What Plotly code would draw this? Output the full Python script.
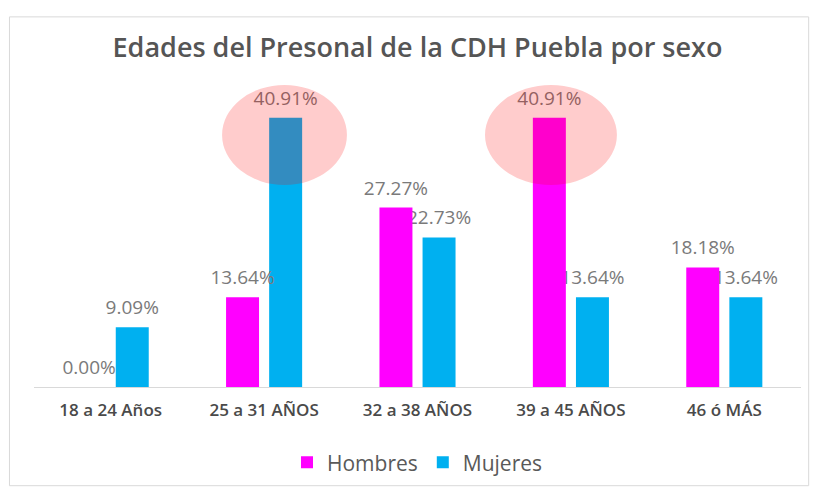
import plotly.graph_objects as go

categories = ["18 a 24 Años", "25 a 31 AÑOS", "32 a 38 AÑOS", "39 a 45 AÑOS", "46 ó MÁS"]
hombres = [0.0, 0.1364, 0.2727, 0.4091, 0.1818]
mujeres = [0.0909, 0.4091, 0.2273, 0.1364, 0.1364]
title_text = "Edades del Presonal de la CDH Puebla por sexo"

FONT = "Open Sans"
label_font = dict(family=FONT, size=19, color="#7a7a7a")
LABEL_PAD = 0.006  # gap between bar top and its label, in axis units
BAR_W = 0.215
OFF_H = -0.248
OFF_M = 0.033


def label_trace(values, offset):
    return go.Bar(
        x=categories, y=[LABEL_PAD] * len(values), base=values,
        text=[f"{v:.2%}" for v in values], textposition="outside",
        textfont=label_font, constraintext="none", cliponaxis=False,
        marker=dict(color="rgba(0,0,0,0)", line=dict(width=0)),
        width=BAR_W, offset=offset, showlegend=False, hoverinfo="skip",
    )


fig = go.Figure()
# Mujeres drawn first so that Hombres bars overlap its labels (as in the original)
fig.add_trace(go.Bar(
    name="Mujeres", x=categories, y=mujeres,
    marker=dict(color="#00B0F0", line=dict(width=0)),
    width=BAR_W, offset=OFF_M,
))
fig.add_trace(label_trace(mujeres, OFF_M))
fig.add_trace(go.Bar(
    name="Hombres", x=categories, y=hombres,
    marker=dict(color="#FF00FF", line=dict(width=0)),
    width=BAR_W, offset=OFF_H,
))
fig.add_trace(label_trace(hombres, OFF_H))

circle_style = dict(type="circle", xref="x", yref="y", layer="above",
                    fillcolor="rgba(255,0,0,0.2)", line=dict(width=0))
shapes = [
    dict(circle_style, x0=0.726, x1=1.54, y0=0.307, y1=0.459),
    dict(circle_style, x0=2.44, x1=3.30, y0=0.307, y1=0.459),
    dict(type="rect", xref="paper", yref="paper", layer="below",
         x0=-0.032, x1=1.01, y0=-0.30, y1=1.125,
         line=dict(color="#D9D9D9", width=1), fillcolor="rgba(0,0,0,0)"),
]

fig.update_layout(
    width=817, height=491,
    margin=dict(l=34, r=16, t=58, b=104, autoexpand=False),
    paper_bgcolor="white", plot_bgcolor="white",
    barmode="overlay",
    title=dict(text=title_text, x=0.511, xanchor="center", y=0.904, yanchor="middle",
               font=dict(family=FONT, size=27, color="#555555", weight=600)),
    xaxis=dict(range=[-0.5, 4.5], showline=True, linecolor="#D9D9D9", linewidth=1, ticks="",
               tickfont=dict(family=FONT, size=17, color="#4a4a4a", weight=600),
               ticklabelstandoff=8, automargin=False,
               showgrid=False, zeroline=False, fixedrange=True),
    yaxis=dict(range=[0, 0.5], visible=False, showgrid=False, zeroline=False, automargin=False),
    showlegend=True,
    legend=dict(orientation="h", x=0.5, xanchor="center", y=-0.23, yanchor="middle",
                traceorder="reversed", font=dict(family=FONT, size=21, color="#595959"),
                itemwidth=30),
    shapes=shapes,
)

fig.write_html("out.html", config={"displayModeBar": False},
               post_script="document.body.style.margin='0';")
